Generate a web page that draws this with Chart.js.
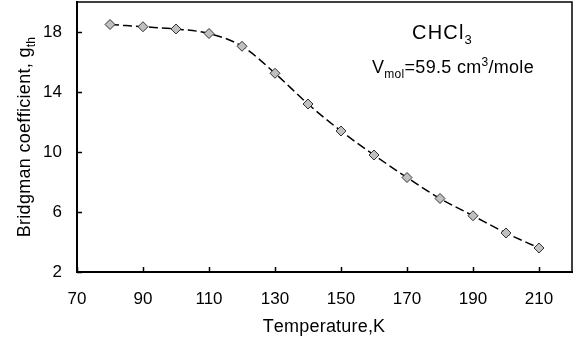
<!DOCTYPE html>
<html>
<head>
<meta charset="utf-8">
<script src="https://cdn.jsdelivr.net/npm/chart.js@4.4.1/dist/chart.umd.min.js"></script>
<style>
  html, body { margin: 0; padding: 0; background: #fff; }
  #wrap { width: 583px; height: 344px; }
</style>
</head>
<body>
<div id="wrap"><canvas id="bridgmanChart" width="583" height="344"></canvas></div>
<script>
// data
const temperatures = [80, 90, 100, 110, 120, 130, 140, 150, 160, 170, 180, 190, 200, 210];
const bridgman = [18.5, 18.35, 18.2, 17.9, 17.05, 15.25, 13.2, 11.4, 9.8, 8.3, 6.9, 5.75, 4.6, 3.6];
const xTickValues = [70, 90, 110, 130, 150, 170, 190, 210];
const yTickValues = [2, 6, 10, 14, 18];

const FONT = '"Liberation Sans", Arial, sans-serif';

// draws a run of text pieces, some as sub/superscript
function drawRich(ctx, parts, x, y, size, spacing) {
    let cx = x;
    parts.forEach(p => {
        const s = p.sub || p.sup ? Math.round(size * 0.65) : size;
        ctx.font = s + 'px ' + FONT;
        let dy = 0;
        if (p.sub) dy = size * 0.25;
        if (p.sup) dy = -size * 0.4;
        for (const ch of p.t) {
            ctx.fillText(ch, cx, y + dy);
            cx += ctx.measureText(ch).width + (spacing || 0);
        }
    });
    return cx - x;
}

function richWidth(ctx, parts, size, spacing) {
    let w = 0;
    parts.forEach(p => {
        const s = p.sub || p.sup ? Math.round(size * 0.65) : size;
        ctx.font = s + 'px ' + FONT;
        for (const ch of p.t) w += ctx.measureText(ch).width + (spacing || 0);
    });
    return w;
}

const decorPlugin = {
    id: 'decor',
    afterDraw(chart) {
        const ctx = chart.ctx;
        const area = chart.chartArea;
        const xs = chart.scales.x;
        const ys = chart.scales.y;
        ctx.save();

        // frame
        ctx.strokeStyle = '#000';
        ctx.lineWidth = 1.5;
        ctx.beginPath();
        ctx.moveTo(area.left, area.top);
        ctx.lineTo(area.right, area.top);
        ctx.lineTo(area.right, area.bottom);
        ctx.stroke();

        // inward tick marks
        ctx.beginPath();
        xTickValues.forEach(v => {
            const px = Math.round(xs.getPixelForValue(v)) + 0.5;
            ctx.moveTo(px, area.bottom);
            ctx.lineTo(px, area.bottom - 5);
        });
        yTickValues.forEach(v => {
            const py = Math.round(ys.getPixelForValue(v)) + 0.5;
            ctx.moveTo(area.left, py);
            ctx.lineTo(area.left + 5, py);
        });
        ctx.stroke();

        ctx.fillStyle = '#000';
        ctx.textBaseline = 'alphabetic';
        ctx.textAlign = 'left';

        // annotations
        drawRich(ctx, [{ t: 'CHCl' }, { t: '3', sub: true }], 412, 39, 20, 1.2);
        drawRich(ctx, [{ t: 'V' }, { t: 'mol', sub: true }, { t: '=59.5 cm' }, { t: '3', sup: true }, { t: '/mole' }], 372, 73, 18, 0.3);

        // x axis title
        const xParts = [{ t: 'Temperature,K' }];
        const xw = richWidth(ctx, xParts, 18, 0.2);
        drawRich(ctx, xParts, 324 - xw / 2, 332, 18, 0.2);

        // y axis title, rotated
        const yParts = [{ t: 'Bridgman coefficient, g' }, { t: 'th', sub: true }];
        const w = richWidth(ctx, yParts, 18, 0.3);
        ctx.translate(30, 137);
        ctx.rotate(-Math.PI / 2);
        drawRich(ctx, yParts, -w / 2, 0, 18, 0.3);

        ctx.restore();
    }
};

const ctx = document.getElementById('bridgmanChart').getContext('2d');

new Chart(ctx, {
    type: 'scatter',
    data: {
        datasets: [{
            label: 'CHCl3',
            data: temperatures.map((t, i) => ({ x: t, y: bridgman[i] })),
            showLine: true,
            borderColor: '#000',
            borderWidth: 1.5,
            borderDash: [9, 4],
            cubicInterpolationMode: 'monotone',
            pointStyle: 'rectRot',
            pointRadius: 5,
            pointBackgroundColor: '#c0c0c0',
            pointBorderColor: '#333',
            pointBorderWidth: 1
        }]
    },
    options: {
        responsive: false,
        animation: false,
        events: [],
        layout: { autoPadding: false, padding: { top: 2, right: 11, left: 0, bottom: 0 } },
        plugins: {
            legend: { display: false },
            tooltip: { enabled: false }
        },
        scales: {
            x: {
                type: 'linear',
                min: 70,
                max: 220,
                afterBuildTicks: s => { s.ticks = xTickValues.map(v => ({ value: v })); },
                afterFit: s => { s.height = 72; s.paddingLeft = 0; s.paddingRight = 0; },
                grid: { display: false, drawTicks: false },
                border: { display: true, color: '#000', width: 2 },
                ticks: {
                    padding: 17,
                    color: '#000',
                    maxRotation: 0,
                    font: { family: FONT, size: 17 }
                }
            },
            y: {
                min: 2,
                max: 20,
                afterBuildTicks: s => { s.ticks = yTickValues.map(v => ({ value: v })); },
                afterFit: s => { s.width = 77; s.paddingTop = 0; s.paddingBottom = 0; },
                grid: { display: false, drawTicks: false },
                border: { display: true, color: '#000', width: 2 },
                ticks: {
                    padding: 15,
                    color: '#000',
                    font: { family: FONT, size: 17 }
                }
            }
        }
    },
    plugins: [decorPlugin]
});
</script>
</body>
</html>
